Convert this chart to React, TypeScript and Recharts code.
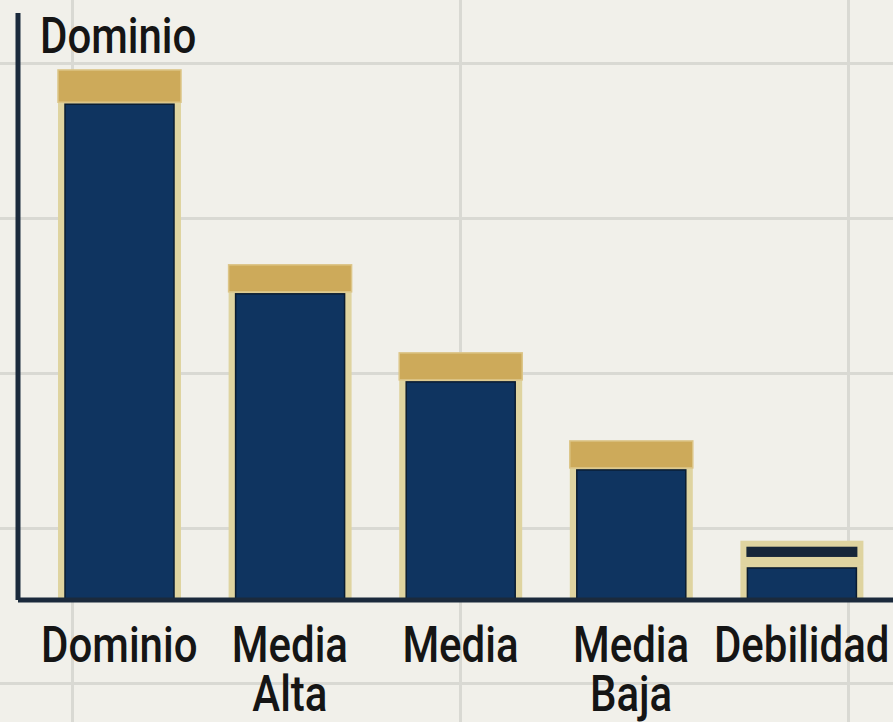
import { BarChart, Bar, XAxis, YAxis, Cell } from 'recharts';

const categories = ['Dominio', 'Media Alta', 'Media', 'Media Baja', 'Debilidad'];
const baseValues = [84.8, 52.5, 37.5, 22.5, 5.8];
const capValues = [5.5, 4.6, 4.6, 4.6, 4.3];

const data = categories.map((name, i) => ({ name, base: baseValues[i], cap: capValues[i] }));

const NAVY = '#0f3460';
const GOLD = '#cdaa5a';
const PALE = '#dfd4a0';
const DARK = '#172638';
const AXIS = '#1b2a3c';
const FONT = 'Roboto, sans-serif';

function BaseShape(props: any) {
  const { x, y, width, height } = props;
  if (!height || height <= 0) return null;
  return (
    <g>
      <rect x={x} y={y} width={width} height={height} fill={PALE} />
      <rect x={x + 7} y={y + 2} width={width - 14} height={height - 2} fill={NAVY} stroke="#0b1c30" strokeWidth={1.5} />
    </g>
  );
}

function CapShape(props: any) {
  const { x, y, width, height, fill } = props;
  if (!height || height <= 0) return null;
  if (fill === DARK) {
    return (
      <g>
        <rect x={x} y={y} width={width} height={height} fill={PALE} />
        <rect x={x + 6} y={y + 6} width={width - 12} height={height - 15} fill={DARK} />
      </g>
    );
  }
  return <rect x={x} y={y} width={width} height={height} fill={GOLD} stroke="#dcc587" strokeWidth={1.5} />;
}

function Tick(props: any) {
  const { x, y, payload } = props;
  const lines = String(payload.value).split(' ');
  return (
    <g transform={`translate(${x},${y})`}>
      {lines.map((l, i) => (
        <text key={i} transform={`translate(0,${54 + i * 49}) scale(0.84,1)`} textAnchor="middle"
          fontFamily={FONT} fontSize={50} fontWeight={500} fill="#151515">{l}</text>
      ))}
    </g>
  );
}

export default function App() {
  return (
    <div style={{
      position: 'absolute', left: 0, top: 0, width: 893, height: 722,
      backgroundColor: '#f1f0ea',
      backgroundImage: 'linear-gradient(to right, #d9d9d3 3px, transparent 3px), linear-gradient(to bottom, #d9d9d3 3px, transparent 3px)',
      backgroundSize: '388px 155px',
      backgroundPosition: '71px 62px',
    }}>
      <BarChart width={893} height={722} data={data} margin={{ top: 13, right: 0, bottom: 0, left: 0 }}
        barCategoryGap="14%">
        <XAxis dataKey="name" height={122} tickLine={false} interval={0}
          axisLine={{ stroke: AXIS, strokeWidth: 5 }} padding={{ left: 16, right: 6 }} tick={<Tick />} />
        <YAxis width={18} domain={[0, 100]} tick={false} tickLine={false}
          axisLine={{ stroke: AXIS, strokeWidth: 5 }}
          label={{
            content: () => (
              <text transform="translate(40,53) scale(0.84,1)" fontFamily={FONT} fontSize={50} fontWeight={500} fill="#151515">Dominio</text>
            ),
          }} />
        <Bar dataKey="base" stackId="a" barSize={123} shape={<BaseShape />} isAnimationActive={false} />
        <Bar dataKey="cap" stackId="a" barSize={123} shape={<CapShape />} isAnimationActive={false}>
          {capValues.map((_, i) => (
            <Cell key={i} fill={i === capValues.length - 1 ? DARK : GOLD} />
          ))}
        </Bar>
      </BarChart>
    </div>
  );
}
